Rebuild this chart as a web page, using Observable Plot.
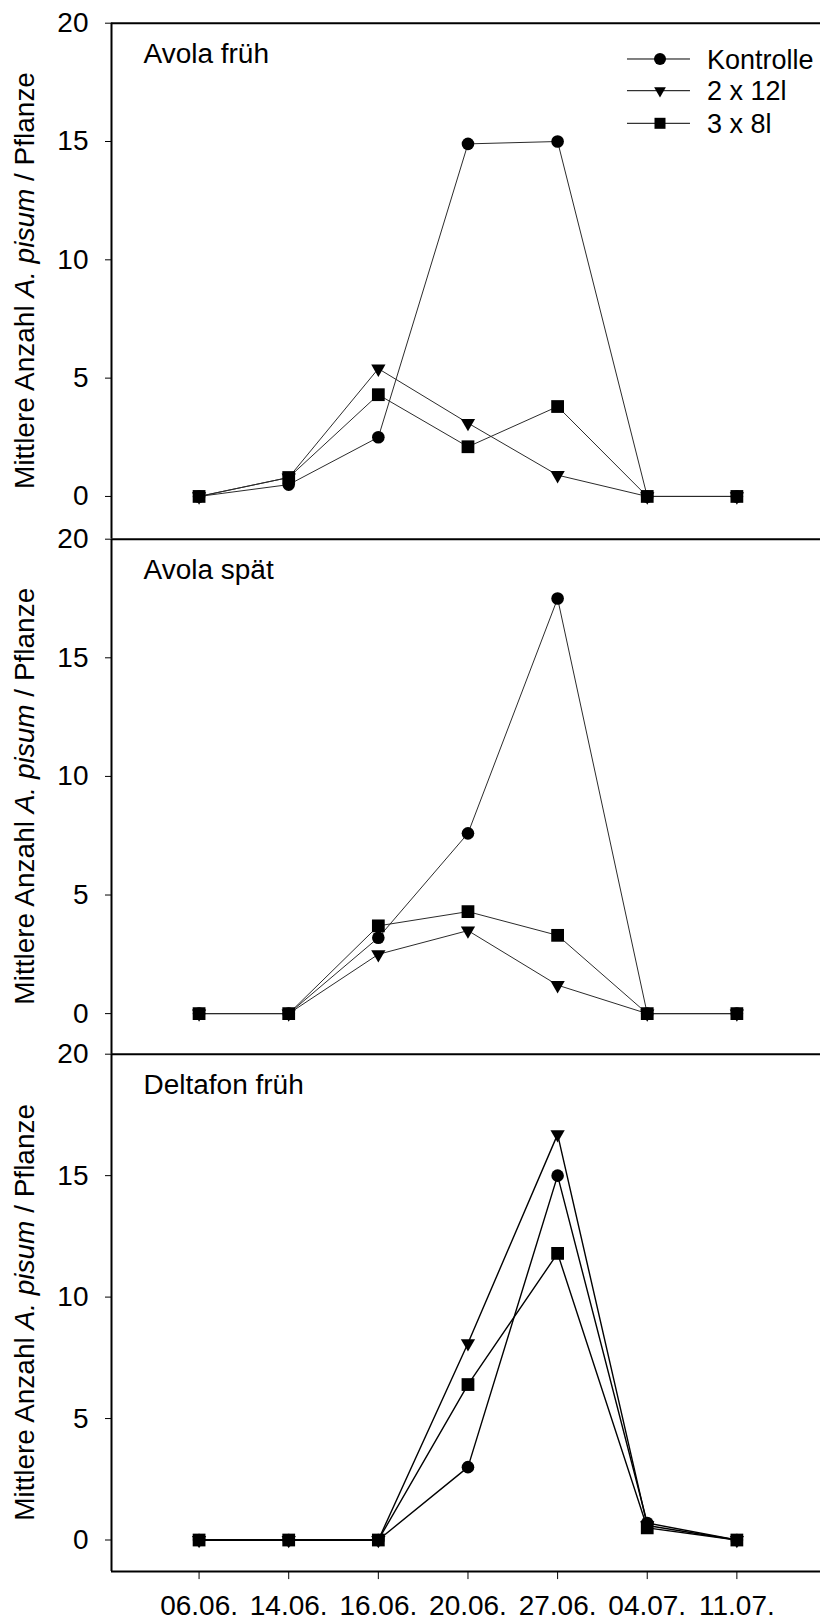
<!DOCTYPE html>
<html><head><meta charset="utf-8">
<script src="https://cdn.jsdelivr.net/npm/d3@7"></script>
<script src="https://cdn.jsdelivr.net/npm/@observablehq/plot@0.6"></script>
<style>
body{margin:0;background:#fff;}
#chart{position:relative;width:820px;height:1623px;overflow:hidden;background:#fff;}
#chart svg{position:absolute;left:0;overflow:visible;}
</style></head><body><div id="chart"></div>
<script>
// ---- data ----
const dates = ["06.06.", "14.06.", "16.06.", "20.06.", "27.06.", "04.07.", "11.07."];
const treatments = ["Kontrolle", "2 x 12l", "3 x 8l"];
const panelTitles = ["Avola früh", "Avola spät", "Deltafon früh"];
const yTicks = [0, 5, 10, 15, 20];

const avolaFruehKontrolle = [0, 0.5, 2.5, 14.9, 15.0, 0, 0];
const avolaFrueh2x12 = [0, 0.8, 5.4, 3.1, 0.9, 0, 0];
const avolaFrueh3x8 = [0, 0.8, 4.3, 2.1, 3.8, 0, 0];

const avolaSpaetKontrolle = [0, 0, 3.2, 7.6, 17.5, 0, 0];
const avolaSpaet2x12 = [0, 0, 2.5, 3.5, 1.2, 0, 0];
const avolaSpaet3x8 = [0, 0, 3.7, 4.3, 3.3, 0, 0];

const deltafonFruehKontrolle = [0, 0, 0, 3.0, 15.0, 0.7, 0];
const deltafonFrueh2x12 = [0, 0, 0, 8.1, 16.7, 0.6, 0];
const deltafonFrueh3x8 = [0, 0, 0, 6.4, 11.8, 0.5, 0];

const panelSeries = [
  [avolaFruehKontrolle, avolaFrueh2x12, avolaFrueh3x8],
  [avolaSpaetKontrolle, avolaSpaet2x12, avolaSpaet3x8],
  [deltafonFruehKontrolle, deltafonFrueh2x12, deltafonFrueh3x8]
];

// ---- layout ----
const FONT = "'Liberation Sans', Arial, Helvetica, sans-serif";
const W = 820, ML = 111, MT = 22.7;
const xDomain = [-0.977, 6.933];
const layout = [
  {top: 0,      inner: 515.6, bottom: 0,    yMin: -1.79, sw: 1.0, stroke: "#2a2a2a"},
  {top: 515.6,  inner: 515.0, bottom: 0,    yMin: -1.71, sw: 1.0, stroke: "#2a2a2a"},
  {top: 1030.6, inner: 517.4, bottom: 52.3, yMin: -1.30, sw: 1.4, stroke: "#000"}
];
const symbols = ["circle", "triangle", "square"];
const symbolR = [6.3, 5.3, 7.2];
const symbolRot = [0, 180, 0];

const chart = document.getElementById("chart");

layout.forEach((L, p) => {
  const rows = [];
  panelSeries[p].forEach((vals, s) => vals.forEach((v, i) => rows.push({i, v, s: treatments[s]})));
  const isLast = p === 2;
  const marks = [
    Plot.ruleY([20], {stroke: "#000", strokeWidth: 2}),
    Plot.ruleX([xDomain[0]], {stroke: "#000", strokeWidth: 2}),
    Plot.line(rows, {x: "i", y: "v", z: "s", stroke: L.stroke, strokeWidth: L.sw}),
    ...treatments.map((t, s) => Plot.dot(rows.filter(d => d.s === t), {
      x: "i", y: "v", symbol: () => symbols[s], r: symbolR[s], rotate: symbolRot[s],
      fill: "#000", stroke: "none"
    })),
    Plot.text([panelTitles[p]], {frameAnchor: "top-left", dx: 32, dy: 40.3, textAnchor: "start",
      lineAnchor: "bottom", fontSize: 28, fill: "#000"})
  ];
  if (isLast) marks.push(Plot.ruleY([L.yMin], {stroke: "#000", strokeWidth: 2}));
  const svg = Plot.plot({
    width: W,
    height: MT + L.inner + L.bottom,
    marginLeft: ML, marginRight: 0, marginTop: MT, marginBottom: L.bottom,
    style: {fontFamily: FONT, fontSize: "28px", color: "#000", background: "transparent", overflow: "visible"},
    symbol: {type: "identity"},
    x: isLast
      ? {domain: xDomain, ticks: dates.map((d, i) => i), tickFormat: i => dates[i], tickSize: 8, tickPadding: 16, label: null}
      : {domain: xDomain, axis: null},
    y: {domain: [L.yMin, 20], ticks: yTicks, tickSize: 6, tickPadding: 17, label: null},
    marks
  });
  svg.style.top = L.top + "px";
  chart.appendChild(svg);

  const s = d3.select(svg);
  // y axis title with italic species name
  const t = s.append("text")
    .attr("transform", `translate(34,${MT + L.inner / 2}) rotate(-90)`)
    .attr("text-anchor", "middle")
    .attr("font-family", FONT).attr("font-size", 28).attr("fill", "#000");
  t.append("tspan").text("Mittlere Anzahl ");
  t.append("tspan").attr("font-style", "italic").text("A. pisum");
  t.append("tspan").text(" / Pflanze");

  if (p === 0) {
    const legendY = [59, 90.7, 123.3];
    const areas = [Math.PI * 36, 60, 121];
    const g = s.append("g").attr("text-anchor", "start");
    treatments.forEach((name, k) => {
      const y = legendY[k];
      g.append("line").attr("x1", 627).attr("x2", 690).attr("y1", y).attr("y2", y)
        .attr("stroke", "#000").attr("stroke-width", 1);
      const sym = [d3.symbolCircle, d3.symbolTriangle, d3.symbolSquare][k];
      g.append("path").attr("d", d3.symbol(sym, areas[k])())
        .attr("transform", `translate(660,${y})` + (k === 1 ? " rotate(180)" : ""))
        .attr("fill", "#000");
      g.append("text").attr("x", 707).attr("y", y + 9.6).attr("text-anchor", "start")
        .attr("font-family", FONT).attr("font-size", 27).attr("fill", "#000").text(name);
    });
  }
});
</script></body></html>
